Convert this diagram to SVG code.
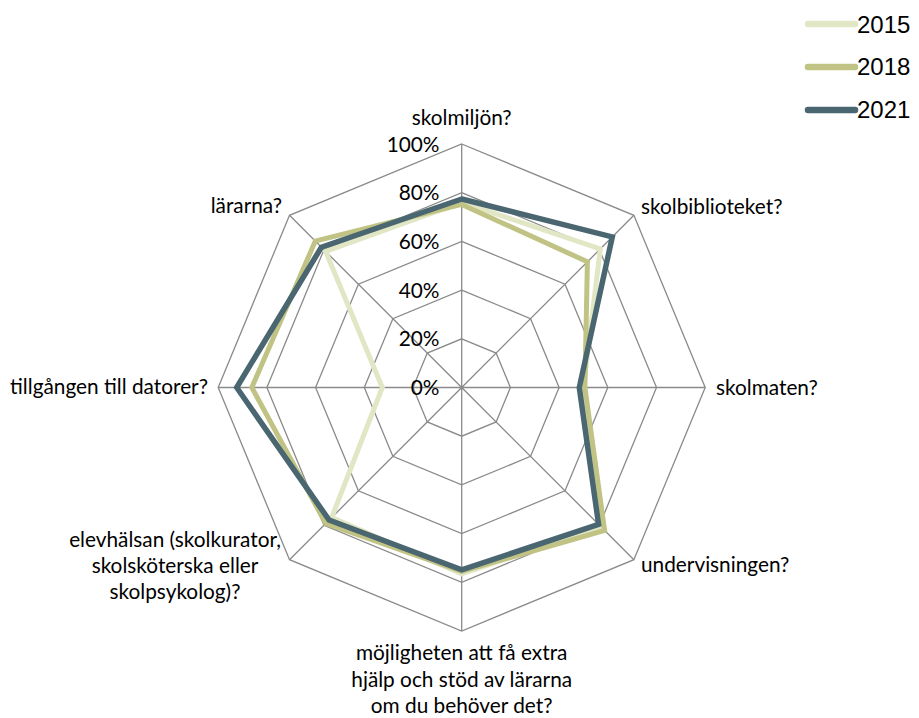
<svg xmlns="http://www.w3.org/2000/svg" width="919" height="718" viewBox="0 0 919 718">
<style>
.grid{fill:none;stroke:#8a8a8a;stroke-width:1.3}
.lbl{font-family:Lato,"Liberation Sans",sans-serif;font-size:20.8px;fill:#000}
.pct{font-family:Lato,"Liberation Sans",sans-serif;font-size:20.8px;fill:#000;text-anchor:end}
.leg{font-family:"Liberation Sans",Arial,sans-serif;font-size:24px;fill:#000}
.s{fill:none;stroke-linejoin:miter}
.y15{stroke:#e1e7c5}
.y18{stroke:#c0c383}
.y21{stroke:#4a6670}
</style>
<rect width="919" height="718" fill="#fff"/>
<g id="grid" transform="translate(461.7,387.5)">
<polygon class="grid" points="0,-243.5 172.18,-172.18 243.5,0 172.18,172.18 0,243.5 -172.18,172.18 -243.5,0 -172.18,-172.18"/>
<polygon class="grid" points="0,-194.8 137.74,-137.74 194.8,0 137.74,137.74 0,194.8 -137.74,137.74 -194.8,0 -137.74,-137.74"/>
<polygon class="grid" points="0,-146.1 103.31,-103.31 146.1,0 103.31,103.31 0,146.1 -103.31,103.31 -146.1,0 -103.31,-103.31"/>
<polygon class="grid" points="0,-97.4 68.87,-68.87 97.4,0 68.87,68.87 0,97.4 -68.87,68.87 -97.4,0 -68.87,-68.87"/>
<polygon class="grid" points="0,-48.7 34.44,-34.44 48.7,0 34.44,34.44 0,48.7 -34.44,34.44 -48.7,0 -34.44,-34.44"/>
<path class="grid" d="M0,0V-243.5M0,0L172.18,-172.18M0,0H243.5M0,0L172.18,172.18M0,0V243.5M0,0L-172.18,172.18M0,0H-243.5M0,0L-172.18,-172.18"/>
</g>
<g id="pct-labels">
<text class="pct" x="439.5" y="151.5">100%</text>
<text class="pct" x="439.5" y="200.2">80%</text>
<text class="pct" x="439.5" y="248.9">60%</text>
<text class="pct" x="439.5" y="297.6">40%</text>
<text class="pct" x="439.5" y="346.3">20%</text>
<text class="pct" x="439.5" y="395">0%</text>
</g>
<g id="series" transform="translate(461.7,387.5)">
<polygon id="s2015" class="s y15" stroke-width="5" points="0,-185.1 138.6,-138.6 121.75,0 139.5,139.5 0,186.3 -130,130 -79.4,0 -136,-136"/>
<polygon id="s2018" class="s y18" stroke-width="5" points="0,-183.1 125.7,-125.7 123.2,0 142.9,142.9 0,183.8 -136,136 -209.9,0 -146.4,-146.4"/>
<polygon id="s2021" class="s y21" stroke-width="5.5" points="0,-188.5 150.6,-150.6 117.6,0 136.9,136.9 0,182.4 -132.6,132.6 -225,0 -140.3,-140.3"/>
</g>
<g id="axis-labels">
<text class="lbl" x="461.7" y="125" text-anchor="middle">skolmiljön?</text>
<text class="lbl" x="641" y="214">skolbiblioteket?</text>
<text class="lbl" x="716" y="395">skolmaten?</text>
<text class="lbl" x="641" y="572">undervisningen?</text>
<text class="lbl" x="461.7" y="660" text-anchor="middle">möjligheten att få extra</text>
<text class="lbl" x="461.7" y="686.5" text-anchor="middle">hjälp och stöd av lärarna</text>
<text class="lbl" x="461.7" y="713" text-anchor="middle">om du behöver det?</text>
<text class="lbl" x="175" y="547" text-anchor="middle">elevhälsan (skolkurator,</text>
<text class="lbl" x="175" y="573" text-anchor="middle">skolsköterska eller</text>
<text class="lbl" x="175" y="599" text-anchor="middle">skolpsykolog)?</text>
<text class="lbl" x="208" y="394" text-anchor="end">tillgången till datorer?</text>
<text class="lbl" x="282" y="213" text-anchor="end">lärarna?</text>
</g>
<g id="legend">
<line x1="808" y1="24" x2="855" y2="24" stroke="#e1e7c5" stroke-width="6.5" stroke-linecap="round"/>
<line x1="808" y1="67" x2="855" y2="67" stroke="#c0c383" stroke-width="6.5" stroke-linecap="round"/>
<line x1="808" y1="110" x2="855" y2="110" stroke="#4a6670" stroke-width="6.5" stroke-linecap="round"/>
<text class="leg" x="857" y="32.5">2015</text>
<text class="leg" x="857" y="75">2018</text>
<text class="leg" x="857" y="118">2021</text>
</g>
</svg>
